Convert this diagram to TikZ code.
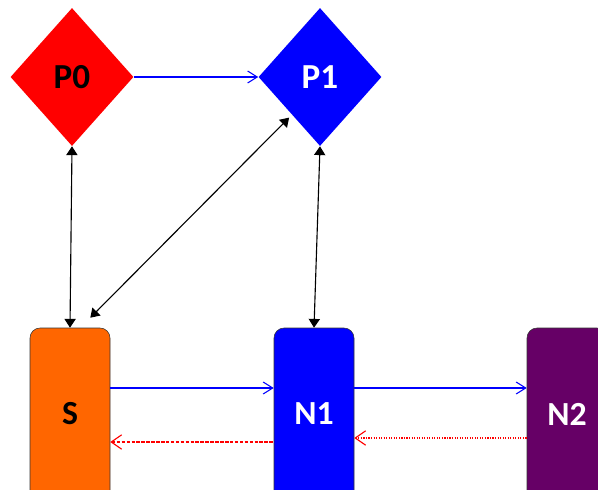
\documentclass[tikz,border=0pt]{standalone}
\usepackage{fontspec}
\setmainfont{Carlito}
\usetikzlibrary{shapes.geometric,arrows.meta}

\tikzset{
  place/.style={diamond,inner sep=0pt,minimum width=3.075cm,minimum height=3.45cm,
    font=\fontsize{25}{30}\selectfont\bfseries},
  netbox/.style={rectangle,rounded corners=0.25cm,draw=black!80,line width=0.4pt,
    minimum width=2cm,minimum height=4.3cm,font=\fontsize{24}{28}\selectfont\bfseries},
  link/.style={blue,line width=0.75pt,-{Straight Barb[length=2.4mm,width=3mm]}},
  back/.style={red,line width=0.8pt,{Straight Barb[length=2.6mm,width=3.6mm]}-},
  both/.style={black,line width=0.8pt,
    {Triangle[length=2.2mm,width=2.8mm]}-{Triangle[length=2.2mm,width=2.8mm]}}
}

\begin{document}
\begin{tikzpicture}
\useasboundingbox (0,0) rectangle (14.95,12.225);
%places
\node[place,fill={rgb,255:red,255;green,0;blue,0},text=black] (P0) at (1.8,10.3) {P0};
\node[place,fill={rgb,255:red,0;green,0;blue,255},text=white] (P1) at (8.0,10.3) {P1};
%nodes
\node[netbox,fill={rgb,255:red,255;green,102;blue,0},text=black] (S) at (1.75,1.875) {S};
\node[netbox,fill={rgb,255:red,0;green,0;blue,255},text=white] (N1) at (7.85,1.875) {N1};
\node[netbox,fill={rgb,255:red,102;green,0;blue,102},text=white] (N2) at (14.175,1.875) {N2};
%forward
\draw[link] (P0.east) -- (P1.west);
\draw[link] ([yshift=0.65cm]S.east) -- ([yshift=0.65cm]N1.west);
\draw[link] ([yshift=0.65cm]N1.east) -- ([yshift=0.65cm]N2.west);
%back
\draw[back,dash pattern=on 2.5pt off 1pt] ([yshift=-0.7cm]S.east) -- ([yshift=-0.7cm]N1.west);
\draw[back,densely dotted] ([yshift=-0.6cm]N1.east) -- ([yshift=-0.6cm]N2.west);
%both ways
\draw[both] (P0.south) -- (S.north);
\draw[both] (P1.south) -- (N1.north);
\draw[both] ([yshift=-0.15cm]P1.south west) -- ([shift={(-0.5cm,0.25cm)}]S.north east);
\end{tikzpicture}
\end{document}
